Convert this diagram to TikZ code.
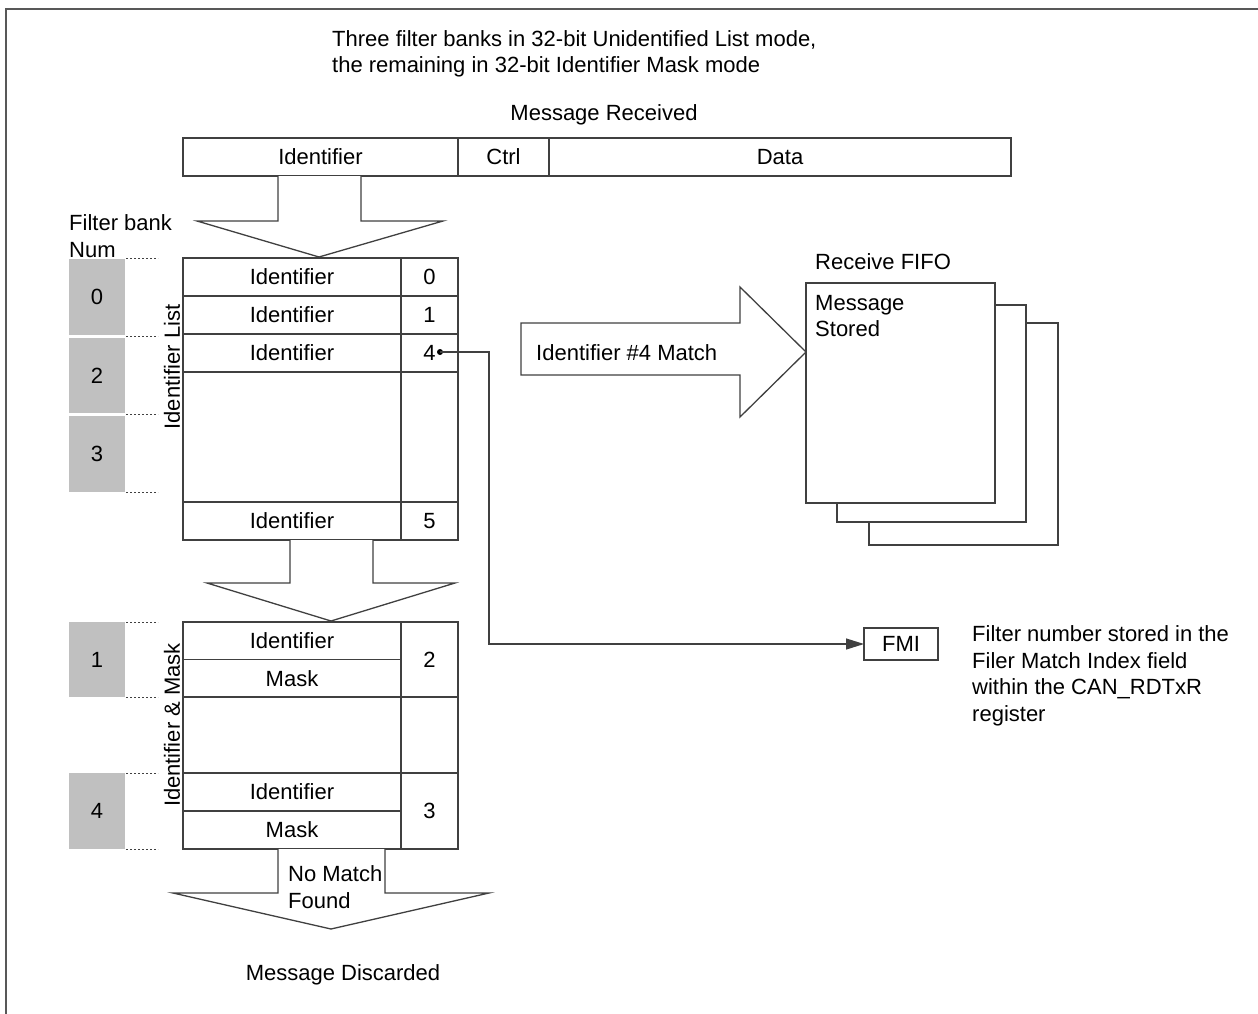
\documentclass[tikz,border=0pt]{standalone}
\usepackage{fontspec}
\setmainfont{Liberation Sans}
\usetikzlibrary{arrows.meta}
\definecolor{ln}{HTML}{404040}
\definecolor{gbox}{HTML}{C0C0C0}
\definecolor{frm}{HTML}{585858}
\begin{document}
\begin{tikzpicture}[x=1pt,y=-1pt,
  every node/.style={font=\fontsize{22}{26.5}\selectfont, text=black},
  cell/.style={draw=ln, line width=1.3pt, inner sep=0pt, outer sep=0pt},
  bank/.style={fill=gbox, inner sep=0pt, outer sep=0pt, minimum width=56pt},
  dots/.style={draw=ln, line width=1pt, dash pattern=on 2pt off 2pt},
  blockarrow/.style={draw=ln, line width=1.3pt, fill=white, line join=miter},
  txt/.style={inner sep=0pt, align=left},
  page/.style={draw=ln, line width=1.3pt, fill=white, inner sep=0pt, outer sep=0pt, minimum width=189pt}]
\useasboundingbox (0,0) rectangle (1258,1014);
% frame
\draw[frm, line width=1.8pt] (6,1014) -- (6,9) -- (1258,9);

% top texts
\node[txt, anchor=west] (title) at (332,54) {Three filter banks in 32-bit Unidentified List mode,\\the remaining in 32-bit Identifier Mask mode};
\node[txt] (msgrec) at (604,115) {Message Received};

% message bar
\node[cell, minimum width=275pt, minimum height=38pt] (mid) at (320.5,157) {Identifier};
\node[cell, minimum width=91pt, minimum height=38pt] (mctrl) at (503.5,157) {Ctrl};
\node[cell, minimum width=462pt, minimum height=38pt] (mdata) at (780,157) {Data};

% arrow 1
\draw[blockarrow] (278,176) -- (278,221) -- (197,221) -- (319,257) -- (443,221) -- (361,221) -- (361,176);

% filter bank label
\node[txt, anchor=west] (fbl) at (69,236) {Filter bank\\Num};

% identifier list table
\node[cell, minimum width=218pt, minimum height=38pt] (l0) at (292,277) {Identifier};
\node[cell, minimum width=57pt, minimum height=38pt] (n0) at (429.5,277) {0};
\node[cell, minimum width=218pt, minimum height=38pt] (l1) at (292,315) {Identifier};
\node[cell, minimum width=57pt, minimum height=38pt] (n1) at (429.5,315) {1};
\node[cell, minimum width=218pt, minimum height=38pt] (l2) at (292,353) {Identifier};
\node[cell, minimum width=57pt, minimum height=38pt] (n2) at (429.5,353) {4};
\node[cell, minimum width=218pt, minimum height=130pt] (l3) at (292,437) {};
\node[cell, minimum width=57pt, minimum height=130pt] (n3) at (429.5,437) {};
\node[cell, minimum width=218pt, minimum height=38pt] (l4) at (292,521) {Identifier};
\node[cell, minimum width=57pt, minimum height=38pt] (n4) at (429.5,521) {5};
\node[txt, rotate=90] (idlist) at (172,367) {Identifier List};

% banks for list
\node[bank, minimum height=76pt] (b0) at (97,297) {0};
\node[bank, minimum height=75pt] (b2) at (97,375.5) {2};
\node[bank, minimum height=76pt] (b3) at (97,454) {3};
\draw[dots] (126,258) -- (158,258);
\draw[dots] (126,336) -- (158,336);
\draw[dots] (126,414) -- (158,414);
\draw[dots] (126,492) -- (158,492);

% arrow 2
\draw[blockarrow] (290,540) -- (290,583) -- (207,583) -- (331,621) -- (455,583) -- (373,583) -- (373,540);

% identifier & mask table
\node[cell, minimum width=218pt, minimum height=37.5pt] (m0) at (292,640.75) {Identifier};
\node[cell, minimum width=218pt, minimum height=37.5pt] (m1) at (292,678.25) {Mask};
\node[cell, minimum width=57pt, minimum height=75pt] (k0) at (429.5,659.5) {2};
\node[cell, minimum width=218pt, minimum height=76pt] (m2) at (292,735) {};
\node[cell, minimum width=57pt, minimum height=76pt] (k1) at (429.5,735) {};
\node[cell, minimum width=218pt, minimum height=38pt] (m3) at (292,792) {Identifier};
\node[cell, minimum width=218pt, minimum height=38pt] (m4) at (292,830) {Mask};
\node[cell, minimum width=57pt, minimum height=76pt] (k2) at (429.5,811) {3};
\node[txt, rotate=90] (idmask) at (172,725) {Identifier \& Mask};

% banks for mask
\node[bank, minimum height=75pt] (b1) at (97,659.5) {1};
\node[bank, minimum height=76pt] (b4) at (97,811) {4};
\draw[dots] (126,622) -- (158,622);
\draw[dots] (126,697) -- (158,697);
\draw[dots] (126,773) -- (158,773);
\draw[dots] (126,849) -- (158,849);

% arrow 3
\draw[blockarrow] (278,849) -- (278,893) -- (173,893) -- (331,929) -- (489,893) -- (385,893) -- (385,849);
\node[txt, anchor=west] (nomatch) at (288,887) {No Match\\Found};
\node[txt] (discard) at (343,975) {Message Discarded};

% horizontal arrow
\draw[blockarrow] (521,323) -- (740,323) -- (740,287) -- (806,352) -- (740,417) -- (740,375) -- (521,375) -- cycle;
\node[txt, anchor=west] (match) at (536,353) {Identifier \#4 Match};

% FIFO
\node[txt, anchor=west] (fifo) at (815,262) {Receive FIFO};
\node[page, minimum height=222pt] (p3) at (963.5,434) {};
\node[page, minimum height=217pt] (p2) at (931.5,413.5) {};
\node[page, minimum height=220pt] (p1) at (900.5,393) {};
\node[txt, anchor=north west] (stored) at (815,295) {Message\\Stored};

% FMI
\node[cell, minimum width=74pt, minimum height=32pt] (fmi) at (901,644) {FMI};
\node[txt, anchor=west] (fmitxt) at (972,676) {Filter number stored in the\\Filer Match Index field\\within the CAN\_RDTxR\\register};

% connector
\coordinate (dot) at (440,352);
\coordinate (bend) at (489,352);
\fill[black] (dot) circle (3pt);
\draw[ln, line width=1.3pt, -{Triangle[length=18pt,width=11pt]}] (dot) -- (bend) |- (fmi.west);
\end{tikzpicture}
\end{document}
